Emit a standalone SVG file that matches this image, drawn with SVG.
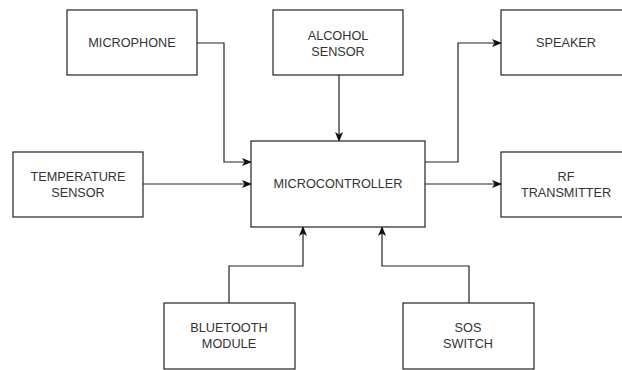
<svg xmlns="http://www.w3.org/2000/svg" width="622" height="370" viewBox="0 0 622 370">
<style>
.box{fill:#fff;stroke:#222;stroke-width:1.2}
.t{font-family:"Liberation Sans",Arial,sans-serif;font-size:12.7px;fill:#333;text-anchor:middle;dominant-baseline:central}
.c{fill:none;stroke:#222;stroke-width:1.2;marker-end:url(#ah)}
</style>
<defs>
<marker id="ah" viewBox="0 0 10 10" refX="9" refY="5" markerWidth="10" markerHeight="10" markerUnits="userSpaceOnUse" orient="auto">
<path d="M0,1 L10,5 L0,9 L2.5,5 Z" fill="#111"/>
</marker>
</defs>
<rect width="622" height="370" fill="#fff"/>
<g id="connectors">
<path class="c" d="M197,43 H224 V162 H251"/>
<path class="c" d="M143,184 H251"/>
<path class="c" d="M339,75 V141"/>
<path class="c" d="M425,162 H458 V43 H501"/>
<path class="c" d="M425,184 H501"/>
<path class="c" d="M229,303 V266 H303 V227"/>
<path class="c" d="M469,303 V266 H382 V227"/>
</g>
<g id="microphone"><rect class="box" x="67" y="10" width="130" height="65"/><text class="t" x="132" y="43">MICROPHONE</text></g>
<g id="alcohol"><rect class="box" x="273" y="10" width="130" height="65"/><text class="t" x="338" y="36">ALCOHOL</text><text class="t" x="338" y="52">SENSOR</text></g>
<g id="speaker"><rect class="box" x="501" y="10" width="130" height="65"/><text class="t" x="566" y="43">SPEAKER</text></g>
<g id="temperature"><rect class="box" x="13" y="152" width="130" height="65"/><text class="t" x="78" y="177">TEMPERATURE</text><text class="t" x="78" y="193">SENSOR</text></g>
<g id="microcontroller"><rect class="box" x="251" y="141" width="174" height="86"/><text class="t" x="338" y="184">MICROCONTROLLER</text></g>
<g id="rf"><rect class="box" x="501" y="152" width="130" height="65"/><text class="t" x="566" y="177">RF</text><text class="t" x="566" y="193">TRANSMITTER</text></g>
<g id="bluetooth"><rect class="box" x="164" y="303" width="131" height="66"/><text class="t" x="229" y="328">BLUETOOTH</text><text class="t" x="229" y="344">MODULE</text></g>
<g id="sos"><rect class="box" x="403" y="303" width="131" height="66"/><text class="t" x="468" y="328">SOS</text><text class="t" x="468" y="344">SWITCH</text></g>
</svg>
